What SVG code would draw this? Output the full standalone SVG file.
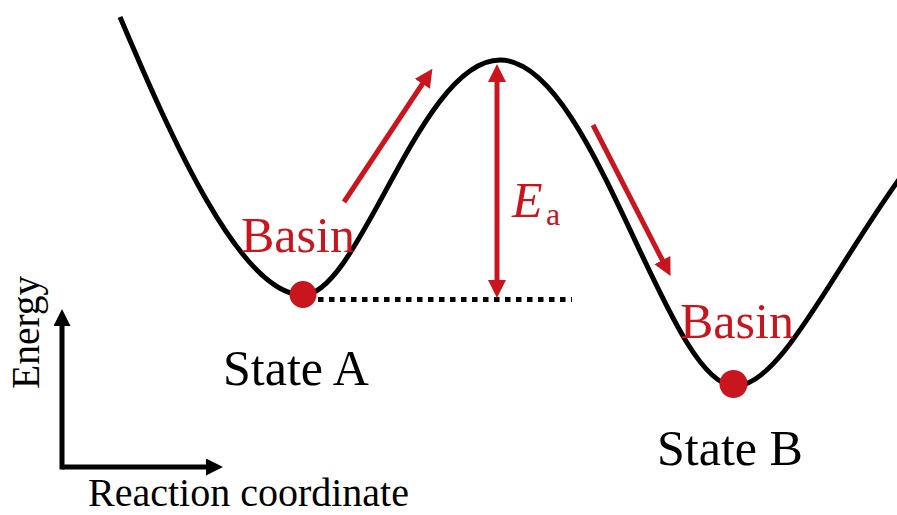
<svg xmlns="http://www.w3.org/2000/svg" width="897" height="515" viewBox="0 0 897 515">
<style>
.red{fill:#C9161E}
.rl{stroke:#C9161E;stroke-width:5;fill:none}
.bl{stroke:#000;stroke-width:5;fill:none}
text{font-family:'Liberation Serif','DejaVu Serif',serif}
</style>
<defs>
<marker id="ah-red" markerUnits="userSpaceOnUse" viewBox="0 0 18 18" markerWidth="18" markerHeight="18" refX="1" refY="9" orient="auto-start-reverse">
<path d="M0,0 L18,9 L0,18 Z" fill="#C9161E"/>
</marker>
<marker id="ah-black" markerUnits="userSpaceOnUse" viewBox="0 0 17 17" markerWidth="17" markerHeight="17" refX="1" refY="8.5" orient="auto">
<path d="M0,0 L17,8.5 L0,17 Z" fill="#000"/>
</marker>
</defs>
<rect width="897" height="515" fill="#fff"/>
<g id="curve">
<path class="bl" d="M120,17 C170,135 240,295 303,295 C360,295 420,60 500,60 C594,60 666,386 735,386 C780,386 830,275 900,178"/>
</g>
<g id="connectors">
<line x1="318" y1="299.5" x2="572" y2="299.5" stroke="#000" stroke-width="5" stroke-dasharray="5.5 5.5"/>
<line class="rl" x1="497" y1="81" x2="497" y2="281" marker-start="url(#ah-red)" marker-end="url(#ah-red)"/>
<line class="rl" x1="344" y1="202" x2="423" y2="83" marker-end="url(#ah-red)"/>
<line class="rl" x1="593" y1="125" x2="662.8" y2="261" marker-end="url(#ah-red)"/>
</g>
<g id="axes">
<polyline class="bl" points="62,467 207,467" marker-end="url(#ah-black)"/>
<line class="bl" x1="62" y1="469.5" x2="62" y2="325" marker-end="url(#ah-black)"/>
<text x="0" y="0" font-size="39.5" transform="translate(39,389) rotate(-90)">Energy</text>
<text x="88" y="506" font-size="40">Reaction coordinate</text>
</g>
<g id="stateA">
<circle class="red" cx="303" cy="294.5" r="13.5"/>
<text class="red" x="241" y="252" font-size="50">Basin</text>
<text x="223" y="385" font-size="50">State A</text>
</g>
<g id="stateB">
<circle class="red" cx="733.5" cy="384" r="14"/>
<text class="red" x="680" y="338" font-size="50">Basin</text>
<text x="657" y="465" font-size="50">State B</text>
</g>
<g id="ea">
<text class="red" x="512" y="217" font-size="50" font-style="italic">E</text>
<text class="red" x="546" y="225" font-size="32">a</text>
</g>
</svg>
